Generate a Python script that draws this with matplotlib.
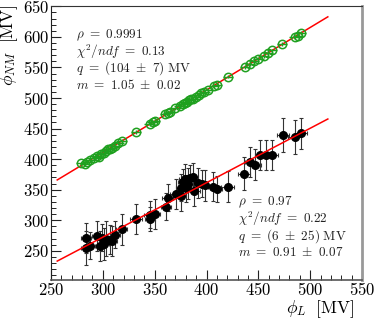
import matplotlib
matplotlib.use("Agg")
import matplotlib.pyplot as plt
from matplotlib.ticker import MultipleLocator, FuncFormatter
import numpy as np

plt.rcParams['mathtext.fontset'] = 'cm'
plt.rcParams['font.family'] = 'serif'

# upper set (open green circles)
green_x = [279, 283, 285, 288, 291, 294, 296, 298, 301, 303, 305, 307, 309, 312, 315, 318,
           332, 345, 348, 350, 360, 363, 365, 370, 374, 377, 379, 381, 383, 385, 387, 390,
           393, 395, 398, 401, 407, 410, 421, 437, 442, 446, 450, 455, 459, 463, 473, 485,
           488, 491]
green_y = [393, 392, 396, 399, 402, 405, 404, 409, 410, 413, 416, 416, 418, 422, 426, 430,
           444, 458, 460, 463, 474, 476, 477, 483, 487, 490, 492, 494, 496, 498, 499, 502,
           505, 508, 510, 513, 519, 522, 535, 551, 556, 560, 564, 568, 573, 578, 588, 600,
           602, 606]

# lower set (filled black circles)
black_x = [283.7, 283.7, 288, 294.7, 297.2, 301.4, 299, 303, 306.9, 309, 311.7, 318.1,
           331.9, 345.4, 345.4, 350.2, 360.8, 362.4, 370.1, 375, 375.7, 377.2, 378.8, 380,
           382.4, 384, 386.5, 387.8, 392, 395.2, 399, 406.4, 410.3, 420.3, 436.3, 441.7,
           447.2, 451.4, 457.8, 463.6, 474, 485, 491]
black_y = [271, 255, 258, 274, 258, 261, 271, 270, 268, 266, 276, 285,
           302, 302, 309, 310, 322, 337, 343, 340, 353, 362, 368, 352,
           360, 369, 371, 348, 361, 360, 357, 355, 351, 355, 376, 395,
           391, 407, 407, 407, 440, 436, 442]
black_yerr = [25, 28, 22, 25, 24, 26, 22, 28, 24, 25, 22, 25,
              24, 20, 22, 25, 22, 22, 24, 25, 22, 22, 24, 22,
              25, 22, 22, 24, 25, 22, 25, 24, 22, 25, 27, 25,
              25, 25, 25, 25, 28, 28, 25]
black_xerr = [5, 5, 5, 5, 5, 5, 6, 5, 5, 5, 5, 5,
              6, 5, 6, 5, 5, 5, 5, 5, 5, 5, 5, 5,
              5, 5, 5, 6, 5, 5, 6, 5, 5, 6, 6, 5,
              5, 5, 5, 5, 6, 6, 6]

# fit parameters (as drawn)
fit_range = [256, 517]
fit_up = (104, 1.023)
fit_lo = (5, 0.891)

text_up = [r'$\rho\ =\ 0.9991$', r'$\chi^2/ndf\ =\ 0.13$',
           r'$q\ =\ (104\ \pm\ 7)\ \mathrm{MV}$', r'$m\ =\ 1.05\ \pm\ 0.02$']
text_lo = [r'$\rho\ =\ 0.97$', r'$\chi^2/ndf\ =\ 0.22$',
           r'$q\ =\ (6\ \pm\ 25)\ \mathrm{MV}$', r'$m\ =\ 0.91\ \pm\ 0.07$']

fig = plt.figure(figsize=(3.74, 3.19), dpi=100)
ax = fig.add_axes([0.1364, 0.122, 0.8316, 0.858])

xf = np.array(fit_range, dtype=float)
ax.plot(xf, fit_up[0] + fit_up[1] * xf, color='red', lw=1.1, zorder=4)
ax.plot(xf, fit_lo[0] + fit_lo[1] * xf, color='red', lw=1.1, zorder=4)

ax.errorbar(black_x, black_y, yerr=black_yerr, xerr=black_xerr, fmt='o', color='black',
            ms=5.5, ecolor='#333333', elinewidth=0.8, capsize=1.5, capthick=0.8, zorder=3)
ax.errorbar(green_x, green_y, xerr=5, yerr=3, fmt='o', mfc='none', mec='#1fa01f',
            mew=1.1, ms=6, ecolor='#1fa01f', elinewidth=1.0, capsize=0, zorder=5)

ax.set_xlim(250, 550)
ax.set_ylim(202, 650)
ax.xaxis.set_major_locator(MultipleLocator(50))
ax.xaxis.set_minor_locator(MultipleLocator(10))
ax.yaxis.set_major_locator(MultipleLocator(50))
ax.yaxis.set_minor_locator(MultipleLocator(10))
fmt = FuncFormatter(lambda v, p: r'$%d$' % v)
ax.xaxis.set_major_formatter(fmt)
ax.yaxis.set_major_formatter(fmt)
ax.tick_params(which='both', direction='in', top=False, right=False, labelsize=12, color='#222222')
ax.tick_params(which='major', length=7, width=0.8)
ax.tick_params(which='minor', length=3.5, width=0.7)
ax.tick_params(axis='x', pad=1.5)
ax.tick_params(axis='y', pad=1.5)

ax.spines['left'].set_color('#222222')
ax.spines['top'].set_color('#333333')
ax.spines['bottom'].set_color('#555555')
ax.spines['bottom'].set_linewidth(1.2)
ax.spines['right'].set_color('#999999')
ax.spines['right'].set_linewidth(2.0)

ax.set_ylabel(r'$\phi_{NM}\ \ [\mathrm{MV}]$', fontsize=12.5, ha='right', va='center')
ax.yaxis.set_label_coords(-0.134, 1.008)
ax.set_xlabel(r'$\phi_{L}\ \ [\mathrm{MV}]$', fontsize=12.5, ha='right', va='center')
ax.xaxis.set_label_coords(0.977, -0.106)

for i, s in enumerate(text_up):
    ax.text(0.080, 0.895 - i * 0.061, s, transform=ax.transAxes, fontsize=9.5,
            ha='left', va='center', color='#222222')
for i, s in enumerate(text_lo):
    ax.text(0.600, 0.283 - i * 0.061, s, transform=ax.transAxes, fontsize=9.5,
            ha='left', va='center', color='#222222')

fig.savefig('out.png', dpi=100)
